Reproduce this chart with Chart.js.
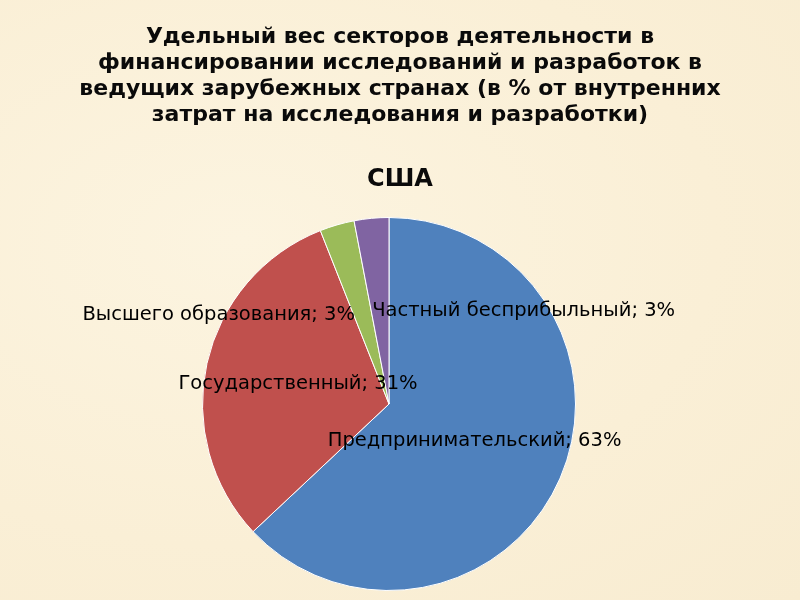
<!DOCTYPE html>
<html>
<head>
<meta charset="utf-8">
<script src="https://cdn.jsdelivr.net/npm/chart.js@4"></script>
<style>
  html, body { margin: 0; padding: 0; width: 800px; height: 600px; overflow: hidden; background: #FAEFD6; }
  #wrap { position: relative; width: 800px; height: 600px;
    background: radial-gradient(ellipse at 30% 40%, #FCF4E0 0%, #FAEFD6 60%, #F8ECD1 100%); }
  #title { position: absolute; left: 0; top: 23px; width: 800px; text-align: center;
    font-family: "DejaVu Sans", sans-serif; font-weight: bold; font-size: 22px; line-height: 26px; color: #0a0a0a; }
  #sub { position: absolute; left: 0; top: 163px; width: 800px; text-align: center;
    font-family: "DejaVu Sans", sans-serif; font-weight: bold; font-size: 24px; line-height: 30px; color: #0a0a0a; }
  canvas { position: absolute; left: 0; top: 0; }
</style>
</head>
<body>
<div id="wrap">
  <canvas id="c" width="800" height="600"></canvas>
  <div id="title">Удельный вес секторов деятельности в<br>финансировании исследований и разработок в<br>ведущих зарубежных странах (в % от внутренних<br>затрат на исследования и разработки)</div>
  <div id="sub">США</div>
</div>
<script>
const categories = ["Предпринимательский", "Государственный", "Высшего образования", "Частный бесприбыльный"];
const values = [63, 31, 3, 3];
const colors = ["#4F81BD", "#C0504D", "#9BBB59", "#8064A2"];

const labelPlugin = {
  id: "sliceLabels",
  afterDatasetsDraw(chart) {
    const ctx = chart.ctx;
    const meta = chart.getDatasetMeta(0);
    const aligns = ["center", "center", "right", "left"];
    const shifts = [0, 0, -8, -8];
    ctx.save();
    ctx.font = "19.5px 'DejaVu Sans', sans-serif";
    ctx.fillStyle = "#000";
    ctx.textBaseline = "middle";
    meta.data.forEach((arc, i) => {
      const p = arc.getCenterPoint();
      ctx.textAlign = aligns[i];
      ctx.fillText(categories[i] + "; " + values[i] + "%", p.x + shifts[i], p.y);
    });
    ctx.restore();
  }
};

new Chart(document.getElementById("c"), {
  type: "pie",
  data: {
    labels: categories,
    datasets: [{
      data: values,
      backgroundColor: colors,
      borderColor: "#FFFFFF",
      borderWidth: 1
    }]
  },
  options: {
    responsive: false,
    animation: false,
    layout: { padding: { top: 217, bottom: 9, left: 0, right: 22 } },
    plugins: {
      legend: { display: false },
      tooltip: { enabled: false },
      title: { display: false }
    }
  },
  plugins: [labelPlugin]
});
</script>
</body>
</html>
